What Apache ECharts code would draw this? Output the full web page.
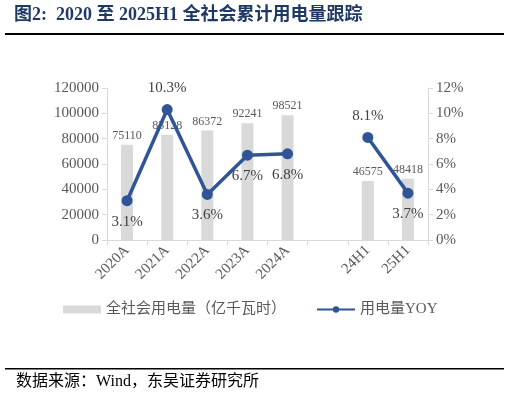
<!DOCTYPE html>
<html><head><meta charset="utf-8">
<script src="https://cdn.jsdelivr.net/npm/echarts@6/dist/echarts.min.js"></script>
<style>html,body{margin:0;background:#fff}#c{width:509px;height:402px}</style>
</head><body><div id="c"></div>
<script>
var categories = ['2020A', '2021A', '2022A', '2023A', '2024A', '', '24H1', '25H1']
var power = [75110, 83128, 86372, 92241, 98521, '-', 46575, 48418] // 亿千瓦时
var yoy = [3.1, 10.3, 3.6, 6.7, 6.8, '-', 8.1, 3.7]
var yoyPos = ['bottom', 'top', 'bottom', 'bottom', 'bottom', 'top', 'top', 'bottom']

var serif = '"Liberation Serif","Noto Sans CJK SC",serif'
var axisGray = '#d9d9d9'
var myChart = echarts.init(document.getElementById('c'))
myChart.setOption({
	animation: false,
	textStyle: { fontFamily: serif },
	graphic: [
		{ type: 'text', left: 14, top: 6, style: { text: '图2:  2020 至 2025H1 全社会累计用电量跟踪', font: 'bold 18px ' + serif, fill: '#1f3864' } },
		{ type: 'rect', shape: { x: 5, y: 33, width: 499, height: 2 }, style: { fill: '#000' } },
		{ type: 'rect', shape: { x: 5, y: 368, width: 499, height: 1.5 }, style: { fill: '#000' } },
		{ type: 'text', left: 16, top: 374, style: { text: '数据来源：Wind，东吴证券研究所', font: '16px ' + serif, fill: '#000' } }
	],
	grid: { left: 107, right: 81, top: 88, bottom: 162 },
	legend: {
		bottom: 80, left: 58, itemGap: 30, itemWidth: 38, itemHeight: 8,
		textStyle: { fontSize: 15, color: '#595959', fontFamily: serif },
		data: [
			{ name: '全社会用电量（亿千瓦时）', icon: 'rect' },
			{ name: '用电量YOY' }
		]
	},
	xAxis: {
		type: 'category', data: categories,
		axisLine: { lineStyle: { color: axisGray } },
		axisTick: { show: true, lineStyle: { color: axisGray } },
		axisLabel: { rotate: 45, color: '#595959', fontSize: 15, interval: 0 }
	},
	yAxis: [
		{
			type: 'value', min: 0, max: 120000, interval: 20000,
			axisLine: { show: true, lineStyle: { color: axisGray } },
			axisTick: { show: true, lineStyle: { color: axisGray } },
			splitLine: { show: false },
			axisLabel: { color: '#595959', fontSize: 15, formatter: function (v) { return String(v) } }
		},
		{
			type: 'value', min: 0, max: 12, interval: 2,
			axisLine: { show: true, lineStyle: { color: axisGray } },
			axisTick: { show: true, lineStyle: { color: axisGray } },
			splitLine: { show: false },
			axisLabel: { color: '#595959', fontSize: 15, formatter: '{value}%' }
		}
	],
	series: [
		{
			name: '全社会用电量（亿千瓦时）', type: 'bar', data: power, barWidth: 12,
			itemStyle: { color: '#d9d9d9' },
			label: { show: true, position: 'top', color: '#595959', fontSize: 12, distance: 3 }
		},
		{
			name: '用电量YOY', type: 'line', yAxisIndex: 1, connectNulls: false,
			data: yoy.map(function (v, i) {
				return { value: v, label: { position: yoyPos[i] } }
			}),
			symbol: 'circle', symbolSize: 11,
			lineStyle: { color: '#2f5597', width: 3.5 },
			itemStyle: { color: '#2f5597' },
			label: { show: true, color: '#404040', fontSize: 15, distance: 8, formatter: function (p) { return p.value + '%' } }
		}
	]
})
</script></body></html>
